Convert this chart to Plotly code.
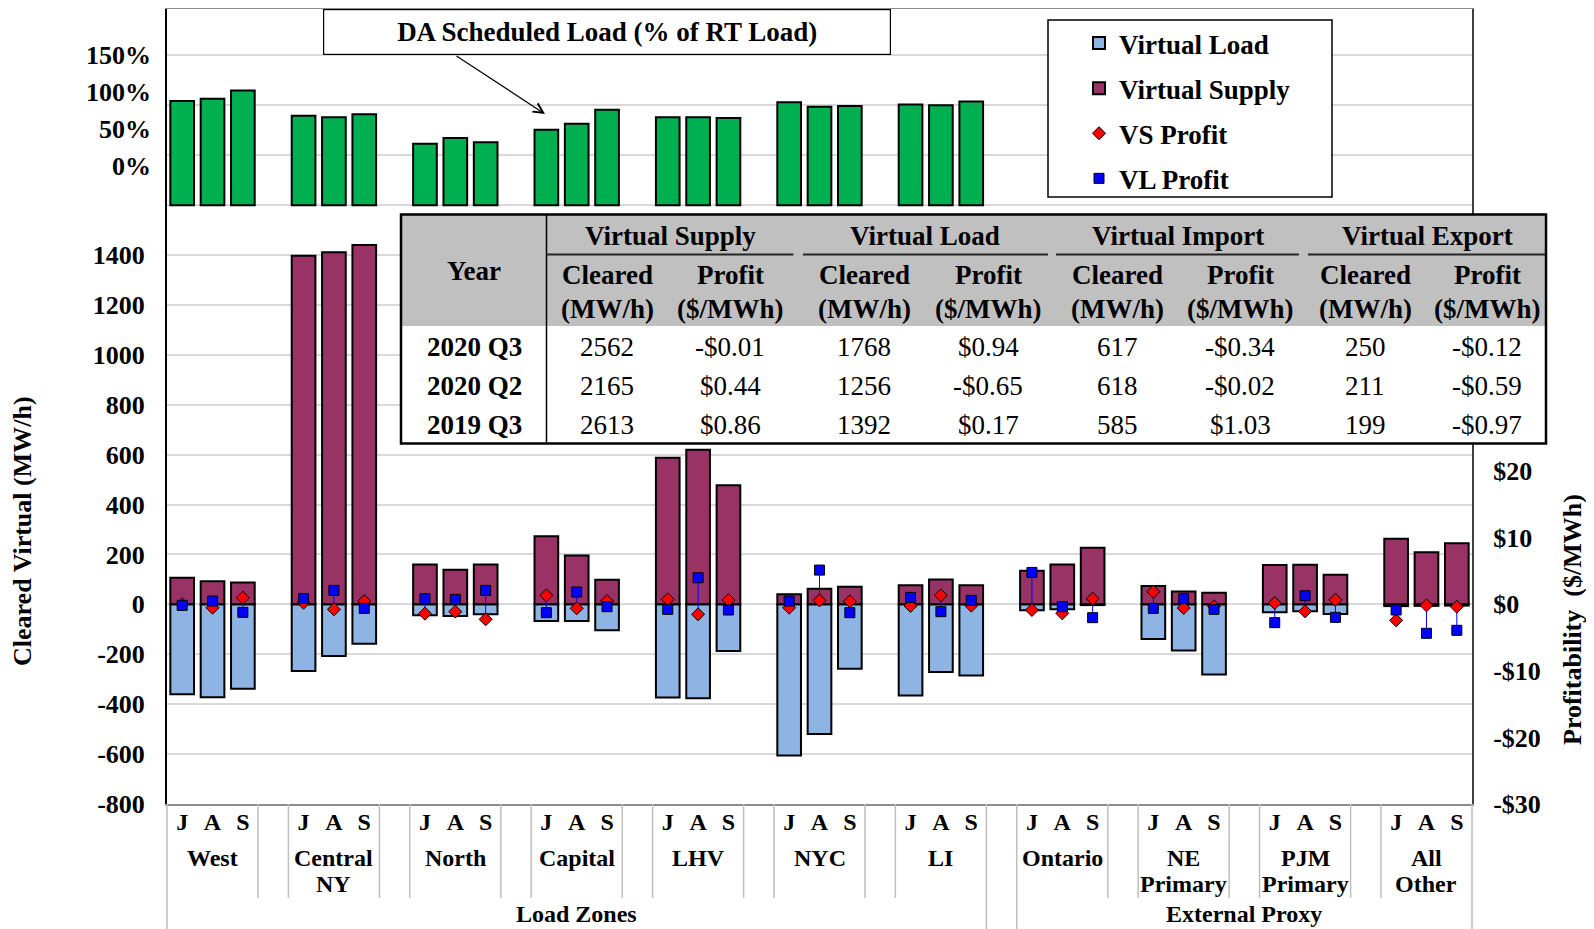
import plotly.graph_objects as go

# ---------------- data ----------------
groups = ["West", "Central\nNY", "North", "Capital", "LHV", "NYC", "LI",
          "Ontario", "NE\nPrimary", "PJM\nPrimary", "All\nOther"]
months = ["J", "A", "S"]
level_labels = ["Load Zones", "External Proxy"]
n_load_zones = 7

virtual_supply = [107, 93, 88, 1397, 1411, 1440, 160, 139, 160, 273, 196, 99,
                  588, 620, 477, 41, 63, 71, 77, 100, 77, 135, 160, 227,
                  74, 52, 47, 158, 159, 119, 263, 209, 245]
virtual_load = [-360, -372, -338, -267, -207, -158, -44, -47, -40, -67, -67, -104,
                -373, -376, -187, -606, -519, -258, -365, -271, -285, -24, -20, -3,
                -139, -185, -281, -32, -28, -39, -7, -6, -5]
vs_profit = [0.0, -0.5, 1.0, 0.25, -0.75, 0.5, -1.4, -1.1, -2.25, 1.35, -0.6, 0.5,
             0.75, -1.5, 0.65, -0.5, 0.6, 0.45, -0.25, 1.35, -0.2, -0.85, -1.35, 0.85,
             1.9, -0.55, -0.3, 0.2, -1.05, 0.7, -2.4, -0.15, -0.35]
vl_profit = [-0.15, 0.5, -1.2, 0.85, 2.1, -0.6, 0.85, 0.75, 2.1, -1.25, 1.85, -0.35,
             -0.75, 4.0, -0.85, 0.5, 5.15, -1.25, 1.05, -1.1, 0.6, 4.8, -0.35, -2.0,
             -0.6, 0.85, -0.75, -2.75, 1.3, -1.95, -0.85, -4.35, -3.9]
da_load_pct = [88, 91, 102, 68, 66, 70, 30, 38, 32, 49, 57, 76,
               66, 66, 65, 86, 80, 81, 83, 82, 87]

left_ticks = [-800, -600, -400, -200, 0, 200, 400, 600, 800, 1000, 1200, 1400]
right_ticks = [-30, -20, -10, 0, 10, 20]
pct_ticks = [0, 50, 100, 150]

table_years = ["2020 Q3", "2020 Q2", "2019 Q3"]
table_groups = ["Virtual Supply", "Virtual Load", "Virtual Import", "Virtual Export"]
vs_cleared_tbl = [2562, 2165, 2613]
vs_profit_tbl = [-0.01, 0.44, 0.86]
vl_cleared_tbl = [1768, 1256, 1392]
vl_profit_tbl = [0.94, -0.65, 0.17]
vi_cleared_tbl = [617, 618, 585]
vi_profit_tbl = [-0.34, -0.02, 1.03]
ve_cleared_tbl = [250, 211, 199]
ve_profit_tbl = [-0.12, -0.59, -0.97]

# ---------------- layout helpers (page pixel coordinates) ----------------
OFF = 8                                   # default page body margin
PL, PR, PT, PB = 167, 1472, 9, 804        # plot area on the page
W, H = 1594 - 2 * OFF, 929 - OFF
L, T = PL - OFF, PT - OFF
R, B = W - (PR - OFF), H - (PB - OFF)
PW, PH = PR - PL, PB - PT

MW_PER_PX = 2200 / 549.0
Y_LO = -800
Y_HI = Y_LO + (PB - PT) * MW_PER_PX
MW_PER_DOLLAR = 800 / 30.0


def px(x):
    return (x - PL) / PW


def py(y):
    return (PB - y) / PH


FONT = "Liberation Serif, Times New Roman, serif"
C_VS, C_VL, C_GREEN = "#993366", "#8DB4E2", "#00B050"
SLOTS = len(groups) * 4 - 1

xs = [g * 4 + m for g in range(len(groups)) for m in range(len(months))]
xs_lz = [g * 4 + m for g in range(n_load_zones) for m in range(len(months))]

# percentage axis (top panel) mapping
PCT0_PIX, PCT_PER_PIX = 166.0, 50 / 37.0
y3_lo = (PCT0_PIX - PB) * PCT_PER_PIX
y3_hi = (PCT0_PIX - PT) * PCT_PER_PIX
PCT_BASE = (PCT0_PIX - 205.3) * PCT_PER_PIX


def money(v):
    return ("-$" if v < 0 else "$") + f"{abs(v):.2f}"


def money_tick(v):
    return ("-$" if v < 0 else "$") + f"{abs(v)}"


fig = go.Figure()

fig.add_trace(go.Bar(x=xs, y=virtual_load, name="Virtual Load", width=0.78,
                     marker=dict(color=C_VL, line=dict(color="black", width=2)),
                     legendgroup="a", yaxis="y"))
fig.add_trace(go.Bar(x=xs, y=virtual_supply, name="Virtual Supply", width=0.78,
                     marker=dict(color=C_VS, line=dict(color="black", width=2)),
                     legendgroup="b", yaxis="y"))
fig.add_trace(go.Bar(x=xs_lz, y=[p - PCT_BASE for p in da_load_pct], base=PCT_BASE,
                     width=0.78, name="DA Scheduled Load", showlegend=False,
                     marker=dict(color=C_GREEN, line=dict(color="black", width=2)),
                     yaxis="y3"))

seg_x, seg_y = [], []
for xi, a, b in zip(xs, vs_profit, vl_profit):
    seg_x += [xi, xi, None]
    seg_y += [a, b, None]
fig.add_trace(go.Scatter(x=seg_x, y=seg_y, mode="lines", yaxis="y2",
                         line=dict(color="#0000FF", width=1), showlegend=False,
                         hoverinfo="skip"))
fig.add_trace(go.Scatter(x=xs, y=vs_profit, mode="markers", name="VS Profit", yaxis="y2",
                         legendgroup="c",
                         marker=dict(symbol="diamond", size=10, color="#FF0000",
                                     line=dict(color="black", width=1))))
fig.add_trace(go.Scatter(x=xs, y=vl_profit, mode="markers", name="VL Profit", yaxis="y2",
                         legendgroup="d",
                         marker=dict(symbol="square", size=10, color="#0000FF",
                                     line=dict(color="black", width=1))))

tick_font = dict(family=FONT, size=26, color="black", weight="bold")

all_y_ticks = list(range(-800, 2401, 200))
fig.update_layout(
    width=W, height=H,
    margin=dict(l=L, r=R, t=T, b=B, autoexpand=False),
    paper_bgcolor="white", plot_bgcolor="white",
    barmode="overlay",
    showlegend=True,
    legend=dict(x=px(1079), y=py(19), xanchor="left", yanchor="top",
                bgcolor="rgba(0,0,0,0)", borderwidth=0,
                traceorder="grouped", tracegroupgap=7,
                font=dict(family=FONT, size=27, color="black", weight="bold")),
    xaxis=dict(range=[-0.5, SLOTS - 0.5], tickmode="array", tickvals=xs,
               ticktext=[months[i % 3] for i in range(len(xs))],
               tickfont=dict(family=FONT, size=24, color="black", weight="bold"),
               ticks="", ticklabelstandoff=-5, showgrid=False, zeroline=False,
               showline=True, linecolor="#8C8C8C", linewidth=2, mirror=True,
               automargin=False),
    yaxis=dict(range=[Y_LO, Y_HI], tickmode="array", tickvals=all_y_ticks,
               ticktext=[str(v) if v in left_ticks else "" for v in all_y_ticks],
               tickfont=tick_font, ticks="", ticklabelstandoff=15,
               showgrid=True, gridcolor="#D9D9D9", gridwidth=2, zeroline=False,
               showline=True, linecolor="black", linewidth=2, automargin=False),
    yaxis2=dict(range=[Y_LO / MW_PER_DOLLAR, Y_HI / MW_PER_DOLLAR], overlaying="y",
                side="right", anchor="x",
                tickmode="array", tickvals=right_ticks,
                ticktext=[money_tick(v) for v in right_ticks],
                tickfont=tick_font, ticks="", ticklabelstandoff=14,
                showgrid=False, zeroline=False, showline=True,
                linecolor="#404040", linewidth=2, automargin=False),
    yaxis3=dict(range=[y3_lo, y3_hi], overlaying="y", side="left", anchor="x",
                tickmode="array", tickvals=pct_ticks,
                ticktext=[f"{v}%" for v in pct_ticks],
                tickfont=tick_font, ticks="", ticklabelstandoff=15,
                showgrid=False, zeroline=False, showline=False, automargin=False),
)

shapes = []
annotations = []


def note(x, y, text, font, xref="paper", **kw):
    d = dict(x=x, y=y, xref=xref, yref="paper", text=text, showarrow=False,
             xanchor="center", yanchor="middle", font=font)
    d.update(kw)
    annotations.append(d)


cat_font = dict(family=FONT, size=24, color="black", weight="bold")

# category separators below the x axis
for g in range(len(groups) - 1):
    s = g * 4 + 3
    bottom = py(929) if g == n_load_zones - 1 else py(898)
    for xx in (s - 0.5, s + 0.5):
        shapes.append(dict(type="line", xref="x", yref="paper", x0=xx, x1=xx,
                           y0=0, y1=bottom, line=dict(color="#BFBFBF", width=1.5)))
for xp in (0, 1):
    shapes.append(dict(type="line", xref="paper", yref="paper", x0=xp, x1=xp,
                       y0=0, y1=py(929), line=dict(color="#BFBFBF", width=1.5)))

# group labels
for g, name in enumerate(groups):
    for k, ln in enumerate(name.split("\n")):
        note(g * 4 + 1, py(858 + 26 * k), ln, cat_font, xref="x")
# level labels
note((n_load_zones * 4 - 2) / 2, py(914), level_labels[0], cat_font, xref="x")
note((n_load_zones * 4 + SLOTS - 1) / 2, py(914), level_labels[1], cat_font, xref="x")

# axis titles
title_font = dict(family=FONT, size=26, color="black", weight="bold")
note(px(22), py(531), "Cleared Virtual (MW/h)", title_font, textangle=-90)
note(px(1572), py(620), "Profitability\u00a0\u00a0($/MWh)", title_font, textangle=-90)

# DA scheduled load call-out
note(px(607), py(32.3), "DA Scheduled Load (% of RT Load)",
     dict(family=FONT, size=27, color="black", weight="bold"),
     width=562, height=40, borderpad=2, borderwidth=1.2,
     bordercolor="black", bgcolor="white")
annotations.append(dict(x=px(545), y=py(114), xref="paper", yref="paper", text="",
                        showarrow=True, ax=-90, ay=-59, arrowhead=5, arrowsize=1.6,
                        arrowwidth=1.2, arrowcolor="black"))

# legend box
shapes.append(dict(type="rect", xref="paper", yref="paper", x0=px(1048), x1=px(1332),
                   y0=py(20), y1=py(197), fillcolor="white",
                   line=dict(color="black", width=1.5), layer="above"))

# summary table
TX0, TX1, TY0, TY1, THDR = 401, 1546, 214.5, 443.5, 326
shapes.append(dict(type="rect", xref="paper", yref="paper", x0=px(TX0), x1=px(TX1),
                   y0=py(TY0), y1=py(TY1), fillcolor="white", line=dict(width=0),
                   layer="above"))
shapes.append(dict(type="rect", xref="paper", yref="paper", x0=px(TX0), x1=px(TX1),
                   y0=py(TY0), y1=py(THDR), fillcolor="#C0C0C0", line=dict(width=0),
                   layer="above"))
shapes.append(dict(type="line", xref="paper", yref="paper", x0=px(546.5), x1=px(546.5),
                   y0=py(TY0), y1=py(TY1), line=dict(color="black", width=1.5),
                   layer="above"))
underlines = [(546.5, 793.5), (803, 1048), (1056, 1299), (1308, 1546)]
for a, b in underlines:
    shapes.append(dict(type="line", xref="paper", yref="paper", x0=px(a), x1=px(b),
                       y0=py(254.5), y1=py(254.5), line=dict(color="#262626", width=2),
                       layer="above"))
shapes.append(dict(type="rect", xref="paper", yref="paper", x0=px(TX0), x1=px(TX1),
                   y0=py(TY0), y1=py(TY1), line=dict(color="black", width=2.5),
                   layer="above"))

hdr_font = dict(family=FONT, size=27, color="black", weight="bold")
val_font = dict(family=FONT, size=27, color="black")
grp_centers = [(a + b) / 2 for a, b in underlines]
col_x = [607, 730, 864, 988, 1117, 1240, 1365, 1487]
note(px(474), py(271), "Year", hdr_font)
for name, cx in zip(table_groups, grp_centers):
    note(px(cx), py(236), name, hdr_font)
for k, cx in enumerate(col_x):
    note(px(cx), py(275), "Cleared" if k % 2 == 0 else "Profit", hdr_font)
    note(px(cx), py(309), "(MW/h)" if k % 2 == 0 else "($/MWh)", hdr_font)
row_y = [347, 386, 425]
cols = [vs_cleared_tbl, vs_profit_tbl, vl_cleared_tbl, vl_profit_tbl,
        vi_cleared_tbl, vi_profit_tbl, ve_cleared_tbl, ve_profit_tbl]
for r, yr in enumerate(table_years):
    note(px(474), py(row_y[r]), yr, hdr_font)
    for k, (cx, col) in enumerate(zip(col_x, cols)):
        txt = str(col[r]) if k % 2 == 0 else money(col[r])
        note(px(cx), py(row_y[r]), txt, val_font)

fig.update_layout(shapes=shapes, annotations=annotations)
fig.write_html("out.html")
